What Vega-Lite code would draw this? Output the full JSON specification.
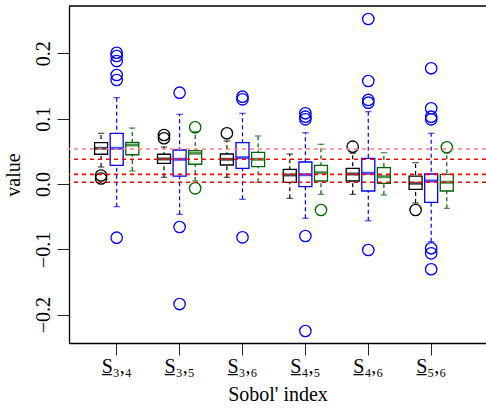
{
  "$schema": "https://vega.github.io/schema/vega-lite/v6.json",
  "autosize": "none",
  "width": 417,
  "height": 337,
  "padding": {"left": 69, "top": 6, "right": 0, "bottom": 70},
  "background": "white",
  "config": {
    "view": {"stroke": null},
    "axis": {
      "labelFont": "Liberation Serif, DejaVu Serif", "labelFontSize": 20, "labelColor": "black",
      "titleFont": "Liberation Serif", "titleFontSize": 20, "titleFontWeight": "normal", "titleColor": "black",
      "domainColor": "black", "domainWidth": 1.3, "tickColor": "#222", "tickWidth": 1, "tickSize": 12, "grid": false
    },
    "axisY": {"labelAngle": -90, "labelPadding": 4, "titlePadding": 10},
    "axisX": {"labelAngle": 0, "labelPadding": 1, "titlePadding": 8}
  },
  "datasets": {
    "boxes": [
      {"index": "S̲₃,₄", "method": "m1", "lower": 0.026, "q1": 0.0455, "median": 0.0546, "q3": 0.0632, "upper": 0.0776},
      {"index": "S̲₃,₄", "method": "m2", "lower": -0.0347, "q1": 0.0286, "median": 0.0546, "q3": 0.0776, "upper": 0.1321},
      {"index": "S̲₃,₄", "method": "m3", "lower": 0.0199, "q1": 0.0448, "median": 0.0597, "q3": 0.0638, "upper": 0.0857},
      {"index": "S̲₃,₅", "method": "m1", "lower": 0.0103, "q1": 0.0317, "median": 0.0383, "q3": 0.0455, "upper": 0.0566},
      {"index": "S̲₃,₅", "method": "m2", "lower": -0.0464, "q1": 0.0122, "median": 0.0378, "q3": 0.052, "upper": 0.1067},
      {"index": "S̲₃,₅", "method": "m3", "lower": 0.0046, "q1": 0.0302, "median": 0.047, "q3": 0.051, "upper": 0.08},
      {"index": "S̲₃,₆", "method": "m1", "lower": 0.0103, "q1": 0.0291, "median": 0.0378, "q3": 0.0459, "upper": 0.0658},
      {"index": "S̲₃,₆", "method": "m2", "lower": -0.0234, "q1": 0.024, "median": 0.0403, "q3": 0.0632, "upper": 0.1082},
      {"index": "S̲₃,₆", "method": "m3", "lower": 0.0026, "q1": 0.0265, "median": 0.0378, "q3": 0.0485, "upper": 0.0735},
      {"index": "S̲₄,₅", "method": "m1", "lower": -0.0219, "q1": 0.0026, "median": 0.0138, "q3": 0.0225, "upper": 0.0459},
      {"index": "S̲₄,₅", "method": "m2", "lower": -0.0525, "q1": -0.0041, "median": 0.0142, "q3": 0.0337, "upper": 0.0785},
      {"index": "S̲₄,₅", "method": "m3", "lower": -0.0158, "q1": 0.0046, "median": 0.0173, "q3": 0.0286, "upper": 0.0608},
      {"index": "S̲₄,₆", "method": "m1", "lower": -0.0158, "q1": 0.0046, "median": 0.0153, "q3": 0.024, "upper": 0.047},
      {"index": "S̲₄,₆", "method": "m2", "lower": -0.0562, "q1": -0.0107, "median": 0.0164, "q3": 0.0393, "upper": 0.1107},
      {"index": "S̲₄,₆", "method": "m3", "lower": -0.0168, "q1": 0.0011, "median": 0.0112, "q3": 0.025, "upper": 0.0479},
      {"index": "S̲₅,₆", "method": "m1", "lower": -0.0291, "q1": -0.0081, "median": 0.0011, "q3": 0.0122, "upper": 0.0326},
      {"index": "S̲₅,₆", "method": "m2", "lower": -0.0883, "q1": -0.028, "median": 0.0046, "q3": 0.0153, "upper": 0.0776},
      {"index": "S̲₅,₆", "method": "m3", "lower": -0.0372, "q1": -0.0107, "median": 0.0026, "q3": 0.0148, "upper": 0.0479}
    ],
    "outliers": [
      {"index": "S̲₃,₄", "method": "m1", "value": 0.013},
      {"index": "S̲₃,₄", "method": "m1", "value": 0.0084},
      {"index": "S̲₃,₄", "method": "m2", "value": 0.2009},
      {"index": "S̲₃,₄", "method": "m2", "value": 0.1959},
      {"index": "S̲₃,₄", "method": "m2", "value": 0.1882},
      {"index": "S̲₃,₄", "method": "m2", "value": 0.1668},
      {"index": "S̲₃,₄", "method": "m2", "value": 0.1592},
      {"index": "S̲₃,₄", "method": "m2", "value": -0.0822},
      {"index": "S̲₃,₅", "method": "m1", "value": 0.075},
      {"index": "S̲₃,₅", "method": "m1", "value": 0.07},
      {"index": "S̲₃,₅", "method": "m2", "value": 0.1397},
      {"index": "S̲₃,₅", "method": "m2", "value": -0.0658},
      {"index": "S̲₃,₅", "method": "m2", "value": -0.1837},
      {"index": "S̲₃,₅", "method": "m3", "value": 0.0868},
      {"index": "S̲₃,₅", "method": "m3", "value": -0.0066},
      {"index": "S̲₃,₆", "method": "m1", "value": 0.0776},
      {"index": "S̲₃,₆", "method": "m2", "value": 0.1336},
      {"index": "S̲₃,₆", "method": "m2", "value": 0.1296},
      {"index": "S̲₃,₆", "method": "m2", "value": -0.0816},
      {"index": "S̲₄,₅", "method": "m2", "value": 0.1082},
      {"index": "S̲₄,₅", "method": "m2", "value": 0.103},
      {"index": "S̲₄,₅", "method": "m2", "value": 0.099},
      {"index": "S̲₄,₅", "method": "m2", "value": -0.0796},
      {"index": "S̲₄,₅", "method": "m2", "value": -0.225},
      {"index": "S̲₄,₅", "method": "m3", "value": -0.0398},
      {"index": "S̲₄,₆", "method": "m1", "value": 0.0571},
      {"index": "S̲₄,₆", "method": "m2", "value": 0.2525},
      {"index": "S̲₄,₆", "method": "m2", "value": 0.1576},
      {"index": "S̲₄,₆", "method": "m2", "value": 0.1286},
      {"index": "S̲₄,₆", "method": "m2", "value": 0.1244},
      {"index": "S̲₄,₆", "method": "m2", "value": -0.101},
      {"index": "S̲₅,₆", "method": "m1", "value": -0.0398},
      {"index": "S̲₅,₆", "method": "m2", "value": 0.1771},
      {"index": "S̲₅,₆", "method": "m2", "value": 0.1159},
      {"index": "S̲₅,₆", "method": "m2", "value": 0.103},
      {"index": "S̲₅,₆", "method": "m2", "value": 0.099},
      {"index": "S̲₅,₆", "method": "m2", "value": -0.0984},
      {"index": "S̲₅,₆", "method": "m2", "value": -0.1061},
      {"index": "S̲₅,₆", "method": "m2", "value": -0.1305},
      {"index": "S̲₅,₆", "method": "m3", "value": 0.0562}
    ]
  },
  "layer": [
    {
      "data": {"name": "boxes"},
      "mark": {"type": "rule", "strokeDash": [4, 3], "strokeWidth": 1.2},
      "encoding": {
        "x": {"field": "index", "type": "nominal", "sort": null, "title": "Sobol' index",
              "scale": {"paddingInner": 0, "paddingOuter": 0.3148, "align": 0.41},
              "axis": {"labelFont": "Liberation Serif, DejaVu Serif"}},
        "xOffset": {"field": "method", "type": "nominal", "scale": {"paddingInner": 0, "paddingOuter": 0.516}},
        "y": {"field": "lower", "type": "quantitative", "title": "value",
              "scale": {"domain": [-0.24334, 0.27242], "nice": false, "zero": false},
              "axis": {"values": [-0.2, -0.1, 0, 0.1, 0.2], "format": ".1f", "labelFont": "Liberation Serif, DejaVu Serif"}},
        "y2": {"field": "upper"},
        "color": {"field": "method", "type": "nominal", "legend": null,
                  "scale": {"domain": ["m1", "m2", "m3"], "range": ["black", "#0000ff", "#006400"]}}
      }
    },
    {
      "data": {"name": "boxes"},
      "mark": {"type": "bar", "size": 13, "fill": "white", "strokeWidth": 1.3},
      "encoding": {
        "x": {"field": "index", "type": "nominal", "sort": null, "title": "Sobol' index"},
        "xOffset": {"field": "method", "type": "nominal"},
        "y": {"field": "q1", "type": "quantitative", "title": "value"},
        "y2": {"field": "q3"},
        "stroke": {"field": "method", "type": "nominal", "legend": null,
                   "scale": {"domain": ["m1", "m2", "m3"], "range": ["black", "#0000ff", "#006400"]}}
      }
    },
    {
      "data": {"name": "boxes"},
      "mark": {"type": "tick", "size": 13, "thickness": 3},
      "encoding": {
        "x": {"field": "index", "type": "nominal", "sort": null, "title": "Sobol' index"},
        "xOffset": {"field": "method", "type": "nominal"},
        "y": {"field": "median", "type": "quantitative", "title": "value"},
        "color": {"field": "method", "type": "nominal", "legend": null}
      }
    },
    {
      "data": {"name": "boxes"},
      "mark": {"type": "tick", "size": 6.5, "thickness": 1.2},
      "encoding": {
        "x": {"field": "index", "type": "nominal", "sort": null, "title": "Sobol' index"},
        "xOffset": {"field": "method", "type": "nominal"},
        "y": {"field": "lower", "type": "quantitative", "title": "value"},
        "color": {"field": "method", "type": "nominal", "legend": null}
      }
    },
    {
      "data": {"name": "boxes"},
      "mark": {"type": "tick", "size": 6.5, "thickness": 1.2},
      "encoding": {
        "x": {"field": "index", "type": "nominal", "sort": null, "title": "Sobol' index"},
        "xOffset": {"field": "method", "type": "nominal"},
        "y": {"field": "upper", "type": "quantitative", "title": "value"},
        "color": {"field": "method", "type": "nominal", "legend": null}
      }
    },
    {
      "data": {"name": "outliers"},
      "mark": {"type": "point", "shape": "circle", "filled": false, "size": 130, "strokeWidth": 1.3, "opacity": 1},
      "encoding": {
        "x": {"field": "index", "type": "nominal", "sort": null, "title": "Sobol' index"},
        "xOffset": {"field": "method", "type": "nominal"},
        "y": {"field": "value", "type": "quantitative", "title": "value"},
        "color": {"field": "method", "type": "nominal", "legend": null}
      }
    },
    {
      "data": {"values": [{"ref": 0.0536}]},
      "mark": {"type": "rule", "color": "#ff8080", "strokeDash": [4, 4], "strokeWidth": 1.6},
      "encoding": {"y": {"field": "ref", "type": "quantitative", "title": "value"}}
    },
    {
      "data": {"values": [{"ref": 0.0378}, {"ref": 0.0148}, {"ref": 0.0026}]},
      "mark": {"type": "rule", "color": "#ff0000", "strokeDash": [4, 4], "strokeWidth": 1.6},
      "encoding": {"y": {"field": "ref", "type": "quantitative", "title": "value"}}
    },
    {
      "data": {"values": [{"top": 0.27242}]},
      "mark": {"type": "rule", "color": "black", "strokeWidth": 1.3},
      "encoding": {"y": {"field": "top", "type": "quantitative", "title": "value"}}
    }
  ]
}
